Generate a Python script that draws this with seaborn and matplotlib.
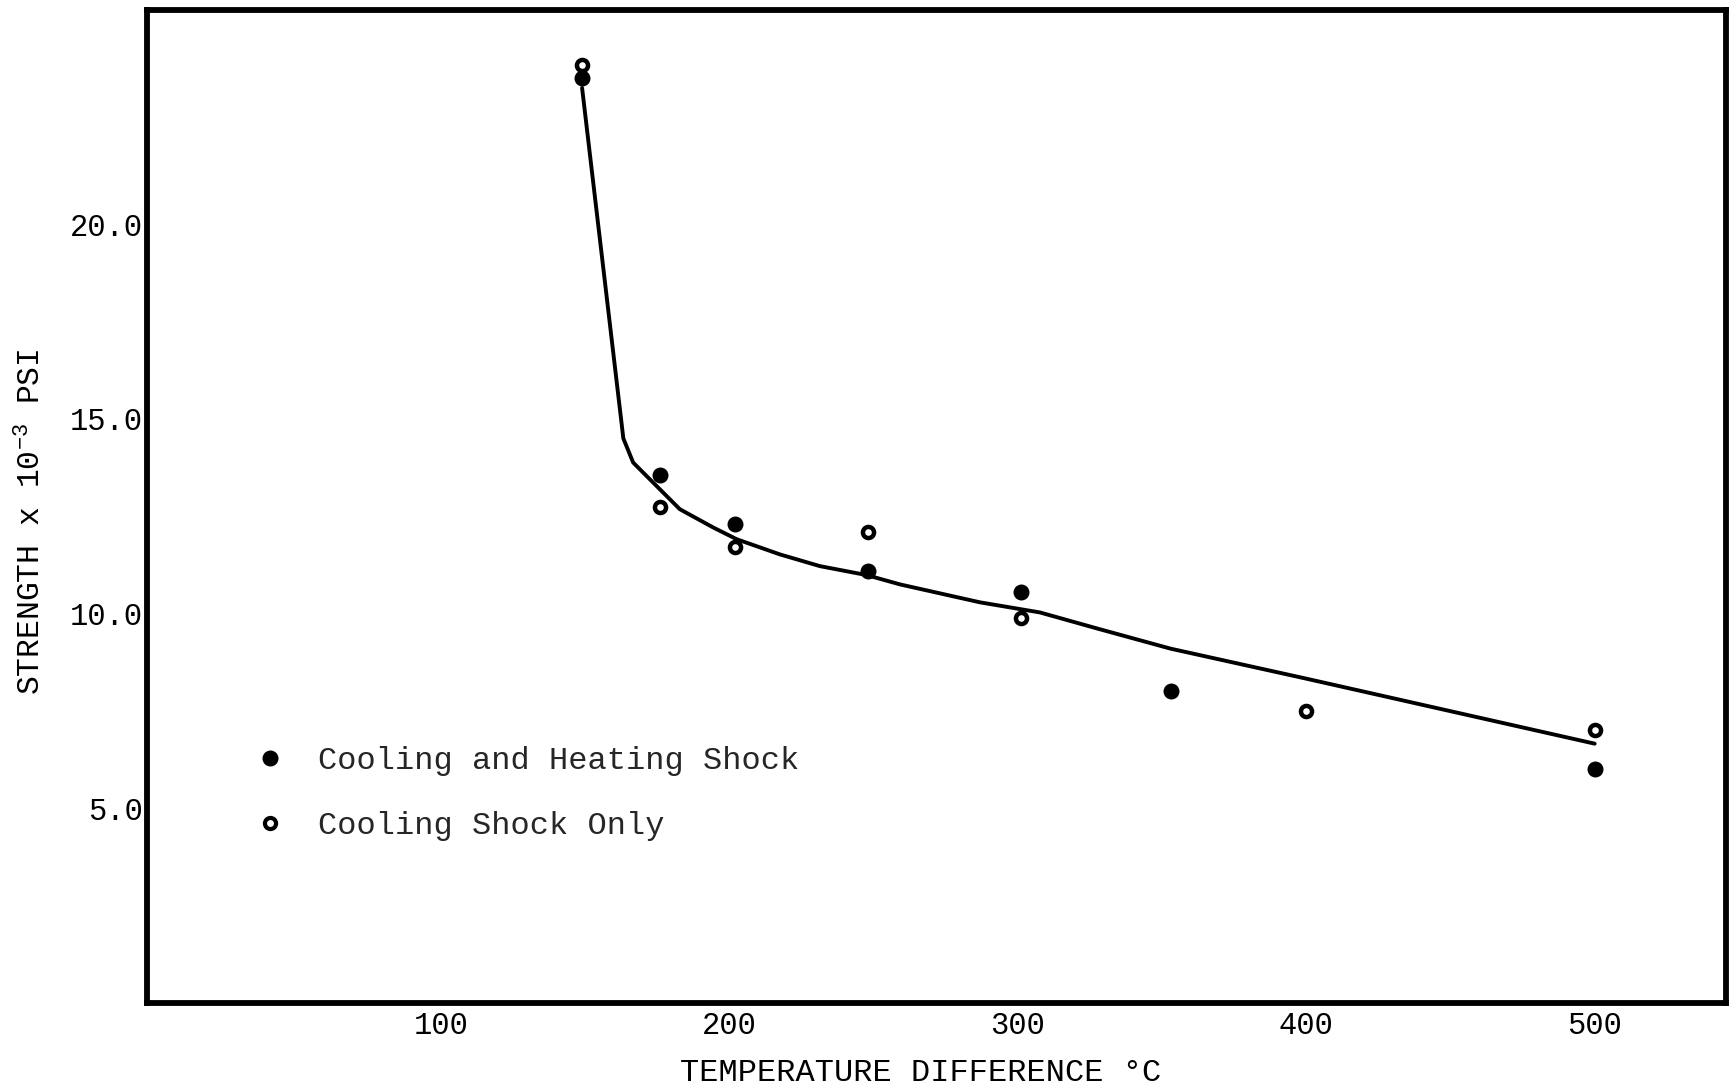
import matplotlib
matplotlib.use("Agg")
import matplotlib.pyplot as plt
from matplotlib.lines import Line2D
import numpy as np
import pandas as pd
import seaborn as sns

# Measured strength after thermal shock (x 10^-3 psi) vs temperature difference (deg C)
heat_cool_temp = [149, 176, 202, 248, 301, 353, 500]
heat_cool_strength = [23.75, 13.55, 12.3, 11.1, 10.55, 8.0, 6.0]

cool_only_temp = [149, 176, 202, 248, 301, 400, 500]
cool_only_strength = [24.1, 12.75, 11.7, 12.1, 9.9, 7.5, 7.0]

# Hand-faired trend curve through both series
curve_temp = [149, 163.3, 166.7, 173.7, 182.9, 194.5, 202.6, 217.6, 231.4,
              247.6, 259.2, 286.9, 307.7, 328.4, 353, 400, 500]
curve_strength = [23.5, 14.5, 13.88, 13.36, 12.68, 12.21, 11.91, 11.52, 11.22,
                  10.99, 10.75, 10.29, 10.03, 9.6, 9.1, 8.33, 6.66]

x_ticks = [100, 200, 300, 400, 500]
x_tick_labels = ["100", "200", "300", "400", "500"]
y_ticks = [5, 10, 15, 20]
y_tick_labels = ["5.0", "10.0", "15.0", "20.0"]

legend_labels = ["Cooling and Heating Shock", "Cooling Shock Only"]

sns.set_theme(style="white")
mono = ["Liberation Mono", "DejaVu Sans Mono"]
plt.rcParams["font.family"] = mono
plt.rcParams["mathtext.fontset"] = "custom"
plt.rcParams["mathtext.rm"] = "Liberation Mono"
plt.rcParams["mathtext.default"] = "rm"

fig = plt.figure(figsize=(17.32, 10.90), dpi=100)
fig.patch.set_facecolor("white")
ax = fig.add_axes([0.0849, 0.0798, 0.9116, 0.911])
ax.set_facecolor("white")

curve_df = pd.DataFrame({"temp": curve_temp, "strength": curve_strength})
sns.lineplot(data=curve_df, x="temp", y="strength", sort=False, color="black",
             linewidth=2.8, ax=ax, zorder=2)

open_df = pd.DataFrame({"temp": cool_only_temp, "strength": cool_only_strength})
sns.scatterplot(data=open_df, x="temp", y="strength", marker="o", s=64,
                facecolor="white", edgecolor="black", linewidth=3.2, ax=ax, zorder=3)

filled_df = pd.DataFrame({"temp": heat_cool_temp, "strength": heat_cool_strength})
sns.scatterplot(data=filled_df, x="temp", y="strength", marker="o", s=110,
                color="black", edgecolor="black", linewidth=1, ax=ax, zorder=4)

ax.set_xlim(-1.8, 545.5)
ax.set_ylim(0, 25.5)

ax.set_xticks(x_ticks)
ax.set_xticklabels(x_tick_labels)
ax.set_yticks(y_ticks)
ax.set_yticklabels(y_tick_labels)

for side in ["left", "right", "top", "bottom"]:
    ax.spines[side].set_visible(True)
    ax.spines[side].set_color("black")
    ax.spines[side].set_linewidth(4.2)

ax.tick_params(axis="x", direction="in", length=21, width=1.9, color="black",
               pad=6, labelsize=22, labelcolor="black")
ax.tick_params(axis="y", direction="in", length=17, width=1.9, color="black",
               pad=3, labelsize=22, labelcolor="black")

ax.set_xlabel("TEMPERATURE DIFFERENCE °C", fontsize=23, color="black")
ax.xaxis.set_label_coords(0.49, -0.055)
ax.set_ylabel(r"STRENGTH x 10$^{-3}$ PSI", fontsize=22.6, color="black")
ax.yaxis.set_label_coords(-0.063, 0.485)

handles = [
    Line2D([], [], linestyle="none", marker="o", markersize=10.5,
           markerfacecolor="black", markeredgecolor="black", markeredgewidth=1),
    Line2D([], [], linestyle="none", marker="o", markersize=8,
           markerfacecolor="white", markeredgecolor="black", markeredgewidth=3.0),
]
ax.legend(handles, legend_labels, loc="upper left", bbox_to_anchor=(0.068, 0.259),
          frameon=False, fontsize=23, handlelength=1.0, handletextpad=0.99,
          labelspacing=1.1, borderpad=0, borderaxespad=0)

fig.savefig("out.png", dpi=100, facecolor="white")
